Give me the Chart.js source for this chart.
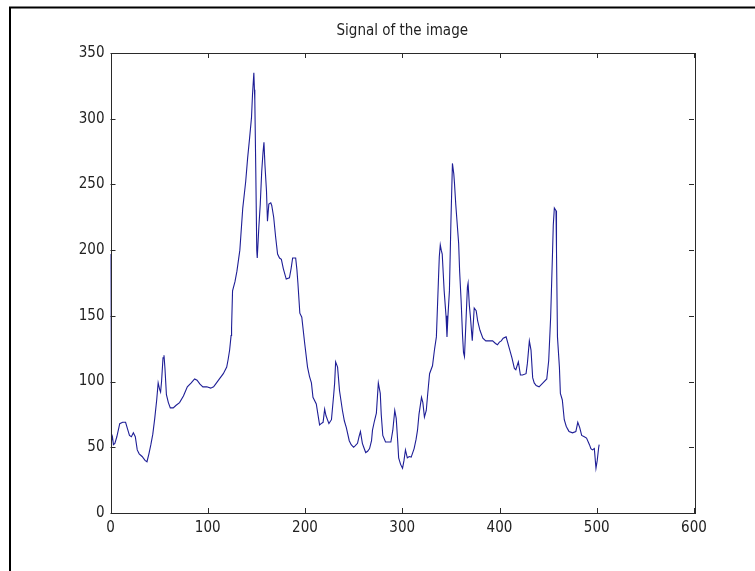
<!DOCTYPE html>
<html>
<head>
<meta charset="utf-8">
<script src="https://cdn.jsdelivr.net/npm/chart.js@4/dist/chart.umd.min.js"></script>
<style>
  html, body { margin: 0; padding: 0; background: #ffffff; }
  #wrap { width: 755px; height: 571px; position: relative; }
</style>
</head>
<body>
<div id="wrap"><canvas id="c"></canvas></div>
<script>
// Sample positions along the signal
const sampleX = [
  0, 1, 2, 3, 4.5, 6.5, 9.5, 12.5, 15.5, 17.5, 19.5, 21.5, 23.5, 25.5, 27.5, 29.5, 32.5, 35.5, 37.5, 39.5,
  41.5, 43.5, 45.5, 47.5, 49, 50.5, 51.5, 52.5, 54, 55, 56, 57.5, 59.5, 61.5, 64.5, 67.5, 71, 75, 79, 83,
  86.5, 89, 92, 95, 99, 103, 106, 109, 112, 116, 119.5, 121, 122.5, 124, 124.5, 125.5, 128, 130, 133, 136,
  139, 141, 143, 145, 146, 147.4, 148, 148.4, 149.4, 150.4, 150.9, 152.5, 154, 155.5, 156.8, 157.8, 158.8, 160.4, 161.4, 162.8,
  164.8, 165.8, 167.8, 169.8, 171.8, 173.8, 175.7, 177.7, 180.7, 184, 185.7, 187.3, 190.4, 191.7, 192.7, 194.7, 196.7, 199.7, 202.6, 204.6,
  206.6, 208.2, 211.6, 215, 216.6, 218.6, 220.2, 221.6, 224.6, 227.2, 229.5, 230.5, 231.5, 233.5, 235.5, 238.5, 240.5, 242.5, 245.5, 247.5,
  250, 251.5, 254, 255.5, 257, 259, 260.4, 262.4, 264.4, 266.4, 268.4, 269.4, 271.4, 273.4, 275.4, 277.4, 278.4, 280, 282.8, 285.3,
  288.3, 290.3, 292.3, 293.8, 295.3, 296.3, 298.3, 300.3, 301.8, 303.3, 305.2, 307.2, 309.2, 312.2, 314.2, 315.7, 317.2, 319.8, 321.2, 322.8,
  324.7, 326.1, 328.1, 331.1, 333.1, 335.1, 337.1, 338.1, 339.1, 340.1, 341.1, 343.1, 345, 346, 347, 348.5, 350, 351.6, 353, 353.7,
  355, 356, 358, 359, 360.5, 362, 363, 364, 365.7, 367, 367.7, 369, 370, 372, 374, 376, 377.6, 379.9, 382.9, 385.9,
  388.9, 392.9, 395.9, 397.9, 399.9, 401.8, 403.8, 406.8, 409.8, 412.8, 415.3, 416.8, 419.4, 421.5, 423.7, 427.3, 428.7, 430.7, 432.4, 434.1,
  435.7, 437.7, 440.7, 444.7, 448.6, 450.6, 452.6, 454.6, 455.3, 456.4, 458.1, 458.6, 459.6, 461.6, 462.6, 464.6, 466.6, 468.6, 470, 471.5,
  475.1, 478.5, 480.5, 482.5, 484.5, 487.2, 489.5, 492.5, 494, 495.5, 497.5, 499.2, 500.5, 502, 502.5
];

// Signal amplitude at each sample
const signal = [
  197, 55, 58, 52, 53, 58, 68, 69, 69, 64, 59, 58, 61, 58, 48, 45, 43, 40, 39, 45,
  52, 60, 72, 86, 99, 94, 92, 100, 118, 120, 110, 90, 84, 80, 80, 82, 84, 89, 96, 99,
  102, 101, 98, 96, 96, 95, 96, 99, 102, 106, 111, 117, 124, 135, 141, 169, 176, 184, 200, 232,
  252, 270, 285, 301, 318, 335, 322, 314, 260, 200, 194, 217, 235, 260, 274, 282, 265, 245, 222, 235,
  236, 234, 225, 210, 197, 194, 193, 186, 178, 179, 186, 194, 194, 185, 175, 152, 149, 129, 111, 104,
  99, 88, 83, 67, 68, 69, 79, 74, 68, 71, 90, 99, 115, 111, 93, 78, 70, 65, 55, 52,
  50, 51, 53, 58, 62, 53, 50, 46, 47, 49, 55, 63, 70, 76, 99, 91, 75, 59, 54, 54,
  54, 63, 78, 72, 55, 42, 37, 34, 40, 48, 42, 43, 42.5, 49, 56, 63, 75, 88, 84, 73,
  78, 90, 106, 112, 124, 134, 175, 195, 204, 200, 197, 169, 150, 134, 150, 169, 220, 266, 258, 251,
  235, 225, 205, 184, 162, 135, 122, 119, 149, 172, 175, 158, 150, 131, 156, 154, 146, 139, 133, 131,
  131, 131, 129, 128, 130, 131, 133, 134, 126, 118, 110, 109, 115, 105, 105, 106, 114, 131, 124, 103,
  99, 97, 96, 99, 102, 116, 149, 200, 219, 232, 230, 200, 134, 111, 91, 86, 71, 66, 64, 62,
  61, 62, 69, 65, 59, 58, 57, 52, 49, 48, 49, 34, 40, 50, 52
];

// Axis tick values
const xTicks = [0, 100, 200, 300, 400, 500, 600];
const yTicks = [0, 50, 100, 150, 200, 250, 300, 350];

const chartTitle = 'Signal of the image';
const FONT = "'Liberation Sans Narrow', 'DejaVu Sans Condensed', 'Liberation Sans', sans-serif";

const points = sampleX.map((x, i) => ({ x: x, y: signal[i] }));

// Figure frame, axes box, inward tick marks and the title
const figurePlugin = {
  id: 'figureDecor',
  beforeDraw(chart) {
    const ctx = chart.ctx;
    ctx.save();
    ctx.fillStyle = '#ffffff';
    ctx.fillRect(0, 0, chart.width, chart.height);
    ctx.strokeStyle = '#000000';
    ctx.lineWidth = 2;
    ctx.beginPath();
    ctx.moveTo(10, chart.height);
    ctx.lineTo(10, 7.5);
    ctx.lineTo(chart.width, 7.5);
    ctx.stroke();
    ctx.restore();
  },
  afterDatasetsDraw(chart) {
    const ctx = chart.ctx;
    const a = chart.chartArea;
    const xs = chart.scales.x, ys = chart.scales.y;
    ctx.save();
    ctx.strokeStyle = '#2a2a2a';
    ctx.lineWidth = 1;
    ctx.strokeRect(Math.round(a.left) + 0.5, Math.round(a.top) + 0.5,
                   Math.round(a.right - a.left), Math.round(a.bottom - a.top));
    const tl = 5;
    ctx.beginPath();
    xTicks.forEach(v => {
      const px = Math.round(xs.getPixelForValue(v)) + 0.5;
      ctx.moveTo(px, a.bottom); ctx.lineTo(px, a.bottom - tl);
      ctx.moveTo(px, a.top); ctx.lineTo(px, a.top + tl);
    });
    yTicks.forEach(v => {
      const py = Math.round(ys.getPixelForValue(v)) + 0.5;
      ctx.moveTo(a.left, py); ctx.lineTo(a.left + tl, py);
      ctx.moveTo(a.right, py); ctx.lineTo(a.right - tl, py);
    });
    ctx.stroke();
    ctx.fillStyle = '#222222';
    ctx.font = '15px ' + FONT;
    ctx.textAlign = 'center';
    ctx.textBaseline = 'middle';
    ctx.fillText(chartTitle, (a.left + a.right) / 2, 31);
    ctx.restore();
  }
};

new Chart(document.getElementById('c'), {
  type: 'line',
  data: {
    datasets: [{
      data: points,
      borderColor: '#1e1e96',
      borderWidth: 1.1,
      pointRadius: 0,
      tension: 0,
      fill: false
    }]
  },
  options: {
    responsive: true,
    maintainAspectRatio: false,
    animation: false,
    layout: { padding: { left: 0, right: 61, top: 53, bottom: 0 } },
    plugins: { legend: { display: false }, title: { display: false }, tooltip: { enabled: false } },
    scales: {
      x: {
        type: 'linear',
        min: 0, max: 600,
        afterBuildTicks: s => { s.ticks = xTicks.map(v => ({ value: v })); },
        afterFit: s => { s.height = 58; },
        grid: { display: false, drawTicks: false },
        border: { display: false },
        ticks: { color: '#222222', font: { family: FONT, size: 15 }, padding: 6, maxRotation: 0 }
      },
      y: {
        type: 'linear',
        min: 0, max: 350,
        afterBuildTicks: s => { s.ticks = yTicks.map(v => ({ value: v })); },
        afterFit: s => { s.width = 110.5; },
        grid: { display: false, drawTicks: false },
        border: { display: false },
        ticks: { color: '#222222', font: { family: FONT, size: 15 }, padding: 6 }
      }
    }
  },
  plugins: [figurePlugin]
});
</script>
</body>
</html>
